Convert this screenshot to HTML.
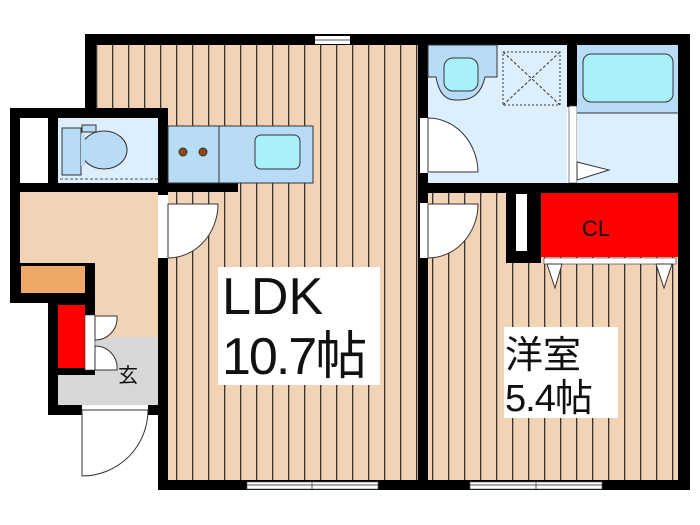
<!DOCTYPE html>
<html><head><meta charset="utf-8"><style>
html,body{margin:0;padding:0;background:#fff;width:700px;height:525px;overflow:hidden}
svg{display:block}
text{font-family:"Liberation Sans","Noto Sans CJK JP",sans-serif;fill:#111}
</style></head><body>
<svg width="700" height="525" viewBox="0 0 700 525" xmlns="http://www.w3.org/2000/svg">
<defs>
<pattern id="fl" width="16" height="10" patternUnits="userSpaceOnUse">
<rect width="16" height="10" fill="#f2d3b5"/>
<rect x="0" y="0" width="1.3" height="10" fill="#333"/>
</pattern>
</defs>
<!-- floors -->
<rect x="96" y="45" width="322" height="63" fill="url(#fl)"/>
<rect x="168" y="45" width="250" height="435" fill="url(#fl)"/>
<rect x="428" y="193" width="250" height="287" fill="url(#fl)"/>
<rect x="20" y="192" width="138" height="71" fill="#f2d3b5"/>
<rect x="95" y="263" width="63" height="74" fill="#f2d3b5"/>
<rect x="58" y="337" width="100" height="68" fill="#d7d7d7"/>
<!-- walls: outer -->
<rect x="85" y="34" width="605" height="11" fill="#000"/>
<rect x="85" y="34" width="11" height="84" fill="#000"/>
<rect x="678" y="34" width="12" height="456" fill="#000"/>
<rect x="158" y="480" width="532" height="10" fill="#000"/>
<rect x="158" y="258" width="10" height="232" fill="#000"/>
<rect x="418" y="34" width="10" height="456" fill="#000"/>
<!-- top window -->
<rect x="315" y="36" width="35" height="8" fill="#fff"/>
<line x1="315" y1="40" x2="350" y2="40" stroke="#555" stroke-width="1"/>
<!-- left protrusion -->
<rect x="10" y="108" width="158" height="10" fill="#000"/>
<rect x="10" y="108" width="10" height="195" fill="#000"/>
<rect x="20" y="118" width="28" height="65" fill="#fff"/>
<rect x="48" y="118" width="10" height="74" fill="#000"/>
<rect x="158" y="108" width="10" height="87" fill="#000"/>
<rect x="10" y="183" width="228" height="9" fill="#000"/>
<rect x="58" y="118" width="100" height="65" fill="#ddeffc"/>
<line x1="60" y1="179" x2="158" y2="179" stroke="#555" stroke-dasharray="3,2"/>
<!-- toilet -->
<rect x="62" y="128" width="19" height="47" fill="#b9dcf6" stroke="#333"/>
<rect x="82" y="125" width="14" height="7" fill="#b9dcf6" stroke="#333"/>
<ellipse cx="104" cy="150" rx="23" ry="19" fill="#b9dcf6" stroke="#333"/>
<rect x="81" y="134" width="4" height="32" fill="#b9dcf6"/>
<!-- kitchen -->
<rect x="168" y="126" width="145" height="57" fill="#b9dcf6" stroke="#333"/>
<line x1="219" y1="126" x2="219" y2="183" stroke="#333"/>
<circle cx="183" cy="152" r="4" fill="#8a4a10" stroke="#333"/>
<circle cx="203" cy="152" r="4" fill="#8a4a10" stroke="#333"/>
<rect x="255" y="135" width="45" height="34" rx="6" fill="#a8f0fc" stroke="#333"/>
<!-- LDK door -->
<rect x="160" y="195" width="8" height="63" fill="#fff"/>
<path d="M168 258 L168 204 L218 204 A50 54 0 0 1 168 258 Z" fill="#fff" stroke="#333"/>
<!-- entrance -->
<rect x="10" y="263" width="85" height="40" fill="#000"/>
<rect x="21" y="266" width="64" height="27" fill="#f0a866"/>
<rect x="48" y="303" width="47" height="72" fill="#000"/>
<rect x="58" y="305" width="27" height="63" fill="#f00"/>
<rect x="85" y="315" width="10" height="55" fill="#fff" stroke="#333" stroke-width="0.6"/>
<path d="M95 316 L117 316 A22 22 0 0 1 95 340 Z" fill="#fff" stroke="#333"/>
<path d="M95 370 L117 370 A22 22 0 0 0 95 346 Z" fill="#fff" stroke="#333"/>
<rect x="48" y="375" width="10" height="40" fill="#000"/>
<rect x="48" y="405" width="34" height="10" fill="#000"/>
<rect x="148" y="405" width="10" height="10" fill="#000"/>
<text x="118" y="382" font-size="20">玄</text>
<path d="M82 410 L148 410 A66 66 0 0 1 82 476 Z" fill="#fff" stroke="#333"/>
<!-- wet area -->
<rect x="428" y="45" width="139" height="138" fill="#ddeffc"/>
<path d="M428 45 L497 45 L497 77 L485 77 Q480 100 460 100 L455 100 Q440 100 436 77 L428 77 Z" fill="#b9dcf6" stroke="#333"/>
<rect x="444" y="58" width="34" height="33" rx="9" fill="#a8f0fc" stroke="#333"/>
<rect x="503" y="52" width="57" height="53" fill="none" stroke="#333" stroke-dasharray="2,2"/>
<line x1="503" y1="52" x2="560" y2="105" stroke="#333" stroke-dasharray="3,2"/>
<line x1="560" y1="52" x2="503" y2="105" stroke="#333" stroke-dasharray="3,2"/>
<rect x="567" y="45" width="10" height="62" fill="#000"/>
<rect x="569" y="106" width="8" height="77" fill="#fff" stroke="#333" stroke-width="0.6"/>
<rect x="577" y="45" width="101" height="138" fill="#ddeffc"/>
<rect x="577" y="45" width="101" height="68" fill="#b9dcf6"/>
<line x1="577" y1="113" x2="678" y2="113" stroke="#333"/>
<rect x="583" y="54" width="90" height="48" rx="8" fill="#a8f0fc" stroke="#333"/>
<path d="M577 162 L609 170 L577 180 Z" fill="#fff" stroke="#333"/>
<rect x="420" y="118" width="8" height="55" fill="#fff"/>
<path d="M428 118 A50 55 0 0 1 478 172 L428 172 Z" fill="#fff" stroke="#333"/>
<rect x="418" y="183" width="272" height="10" fill="#000"/>
<!-- bedroom door -->
<rect x="420" y="203" width="8" height="55" fill="#fff"/>
<path d="M428 204 L478 204 A50 54 0 0 1 428 258 Z" fill="#fff" stroke="#333"/>
<!-- CL -->
<rect x="506" y="193" width="35" height="70" fill="#000"/>
<rect x="516" y="194" width="11" height="57" fill="#fff"/>
<rect x="541" y="193" width="137" height="64" fill="#f00"/>
<text x="582" y="236" font-size="22">CL</text>
<rect x="544" y="258" width="132" height="6" fill="#fff" stroke="#333" stroke-width="0.6"/>
<path d="M547 264 L562 264 L555 288 Z" fill="#fff" stroke="#333"/>
<path d="M656 264 L672 264 L664 288 Z" fill="#fff" stroke="#333"/>
<!-- bottom windows -->
<rect x="247" y="482" width="131" height="7" fill="#fff" stroke="#555" stroke-width="0.6"/>
<line x1="247" y1="485" x2="378" y2="485" stroke="#555"/>
<line x1="312" y1="481" x2="312" y2="489" stroke="#555"/>
<rect x="470" y="482" width="132" height="7" fill="#fff" stroke="#555" stroke-width="0.6"/>
<line x1="470" y1="485" x2="602" y2="485" stroke="#555"/>
<line x1="536" y1="481" x2="536" y2="489" stroke="#555"/>
<!-- labels -->
<rect x="218" y="267" width="162" height="118" fill="#fff"/>
<text x="222" y="314" font-size="52">LDK</text>
<text x="222" y="374" font-size="52" letter-spacing="-2">10.7帖</text>
<rect x="504" y="327" width="114" height="91" fill="#fff"/>
<text x="505" y="368" font-size="38">洋室</text>
<text x="505" y="411" font-size="38" letter-spacing="-1">5.4帖</text>
</svg>
</body></html>
